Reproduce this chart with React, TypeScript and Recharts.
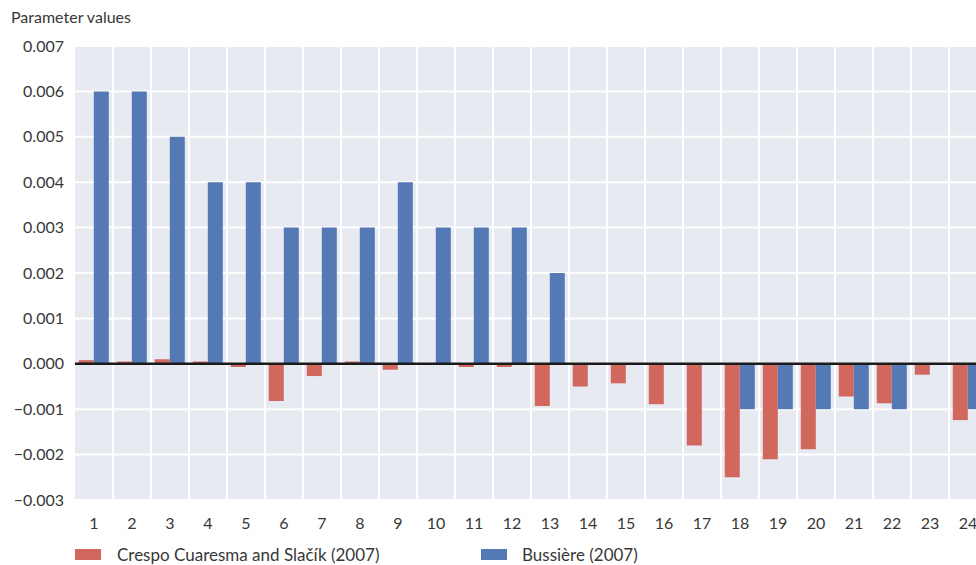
import { BarChart, Bar, XAxis, YAxis, CartesianGrid, ReferenceLine } from "recharts";

const categories = ["1", "2", "3", "4", "5", "6", "7", "8", "9", "10", "11", "12", "13", "14", "15", "16", "17", "18", "19", "20", "21", "22", "23", "24"];
const crespo = [0.00008, 0.00005, 0.0001, 0.00005, -0.00007, -0.00082, -0.00027, 0.00005, -0.00013, 0, -0.00007, -0.00007, -0.00093, -0.0005, -0.00043, -0.00089, -0.0018, -0.0025, -0.0021, -0.00188, -0.00072, -0.00087, -0.00024, -0.00124];
const bussiere = [0.006, 0.006, 0.005, 0.004, 0.004, 0.003, 0.003, 0.003, 0.004, 0.003, 0.003, 0.003, 0.002, 0, 0, 0, 0, -0.001, -0.001, -0.001, -0.001, -0.001, 0, -0.001];
const yTicks = [0.007, 0.006, 0.005, 0.004, 0.003, 0.002, 0.001, 0, -0.001, -0.002, -0.003];

const RED = "#d1675d";
const BLUE = "#5479b4";
const FONT = "Lato, 'Open Sans', sans-serif";
const TEXT = "#383838";

const data = categories.map((c, i) => ({ cat: c, crespo: crespo[i], bussiere: bussiere[i] }));

function fmt(v: number): string {
  return v < 0 ? "\u2212" + Math.abs(v).toFixed(3) : v.toFixed(3);
}

export default function App() {
  return (
    <div style={{ position: "relative", width: 976, height: 565, overflow: "hidden", fontFamily: FONT, color: TEXT }}>
      <style>{"body{margin:0;overflow:hidden}"}</style>
      <div style={{ position: "absolute", left: 11, top: 7, fontSize: 16 }}>Parameter values</div>
      <BarChart
        width={987}
        height={565}
        data={data}
        margin={{ top: 46, right: 0, bottom: 35, left: 0 }}
        barCategoryGap="10%"
        barGap={0}
      >
        <CartesianGrid
          fill="#e8eaf2"
          stroke="#ffffff"
          strokeWidth={2}
          verticalCoordinatesGenerator={({ offset }: any) =>
            categories.slice(1).map((_, i) => offset.left + ((i + 1) * offset.width) / categories.length)
          }
        />
        <XAxis
          dataKey="cat"
          interval={0}
          axisLine={false}
          tickLine={false}
          tickSize={0}
          tickMargin={18}
          tick={{ fill: TEXT, fontSize: 16, fontFamily: FONT }}
        />
        <YAxis
          width={75}
          domain={[-0.003, 0.007]}
          ticks={yTicks}
          interval={0}
          allowDataOverflow
          axisLine={false}
          tickLine={false}
          tickSize={0}
          tickMargin={11}
          tickFormatter={fmt}
          tick={{ fill: TEXT, fontSize: 16, fontFamily: FONT }}
        />
        <Bar dataKey="crespo" fill={RED} isAnimationActive={false} />
        <Bar dataKey="bussiere" fill={BLUE} isAnimationActive={false} />
        <ReferenceLine y={0} stroke="#1a1a1a" strokeWidth={2.5} />
      </BarChart>
      <div style={{ position: "absolute", top: 543, left: 75, height: 22, display: "flex", alignItems: "center", fontSize: 17 }}>
        <span style={{ display: "inline-block", width: 26, height: 11, background: RED, marginRight: 16 }} />
        <span>Crespo Cuaresma and Slačík (2007)</span>
      </div>
      <div style={{ position: "absolute", top: 543, left: 481, height: 22, display: "flex", alignItems: "center", fontSize: 17 }}>
        <span style={{ display: "inline-block", width: 26, height: 11, background: BLUE, marginRight: 15 }} />
        <span>Bussière (2007)</span>
      </div>
    </div>
  );
}
